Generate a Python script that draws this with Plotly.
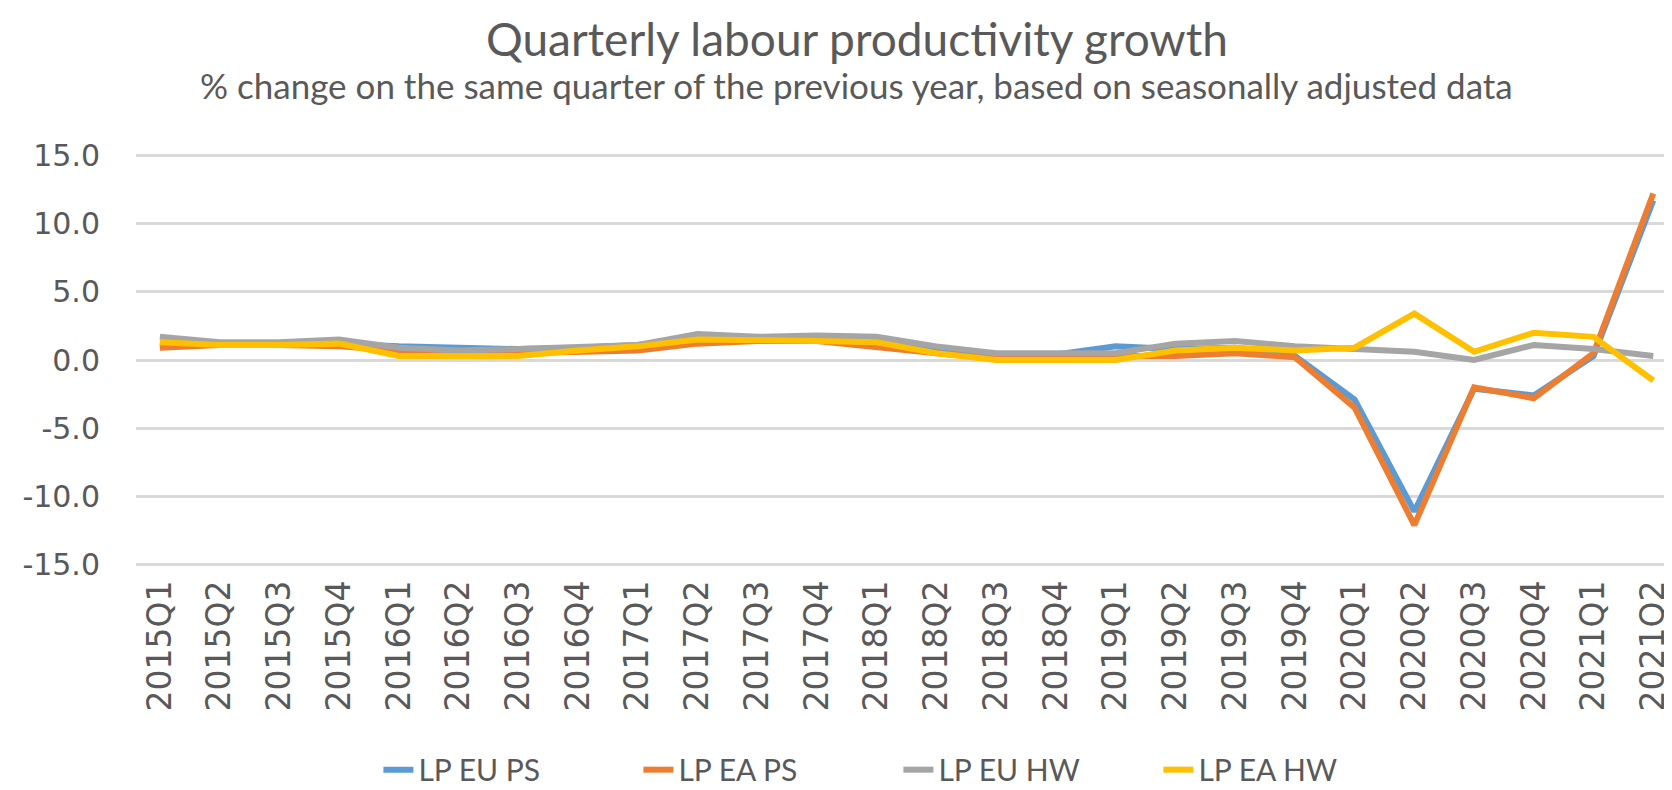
import plotly.graph_objects as go

# 季度標籤
QUARTERS = [
    "2015Q1", "2015Q2", "2015Q3", "2015Q4",
    "2016Q1", "2016Q2", "2016Q3", "2016Q4",
    "2017Q1", "2017Q2", "2017Q3", "2017Q4",
    "2018Q1", "2018Q2", "2018Q3", "2018Q4",
    "2019Q1", "2019Q2", "2019Q3", "2019Q4",
    "2020Q1", "2020Q2", "2020Q3", "2020Q4",
    "2021Q1", "2021Q2",
]

# 各序列數值（% 年增率，由圖估讀）
LP_EU_PS = [1.2, 1.2, 1.2, 1.2, 1.0, 0.9, 0.8, 0.9, 1.1, 1.5, 1.5, 1.5, 1.3,
            0.8, 0.4, 0.4, 1.0, 0.8, 0.9, 0.3, -2.9, -11.1, -2.1, -2.6, 0.3, 11.7]
LP_EA_PS = [0.9, 1.1, 1.1, 1.0, 0.7, 0.5, 0.5, 0.6, 0.7, 1.2, 1.4, 1.4, 0.9,
            0.5, 0.1, 0.1, 0.3, 0.3, 0.5, 0.2, -3.5, -12.1, -2.0, -2.8, 0.5, 12.2]
LP_EU_HW = [1.7, 1.3, 1.3, 1.5, 0.9, 0.7, 0.8, 0.9, 1.1, 1.9, 1.7, 1.8, 1.7,
            1.0, 0.5, 0.5, 0.5, 1.2, 1.4, 1.0, 0.8, 0.6, 0.0, 1.1, 0.8, 0.3]
LP_EA_HW = [1.3, 1.1, 1.1, 1.2, 0.3, 0.3, 0.3, 0.7, 1.0, 1.5, 1.5, 1.4, 1.3,
            0.5, 0.0, 0.0, 0.0, 0.7, 0.9, 0.7, 0.9, 3.4, 0.6, 2.0, 1.7, -1.5]

Y_TICKS = [-15, -10, -5, 0, 5, 10, 15]

SERIES = [
    ("LP EU PS", LP_EU_PS, "#5B9BD5"),
    ("LP EA PS", LP_EA_PS, "#ED7D31"),
    ("LP EU HW", LP_EU_HW, "#A5A5A5"),
    ("LP EA HW", LP_EA_HW, "#FFC000"),
]

TEXT_GREY = "#595959"

fig = go.Figure()
for name, values, color in SERIES:
    fig.add_trace(
        go.Scatter(
            x=QUARTERS,
            y=values,
            mode="lines",
            name=name,
            line=dict(color=color, width=6),
            hovertemplate=f"{name}<br>%{{x}}：%{{y:.1f}}%<extra></extra>",
        )
    )

# 標題與副標題（用 annotation 才能自由定位）
fig.add_annotation(
    text="Quarterly labour productivity growth",
    xref="paper", yref="paper", x=0.470, y=1.0, yshift=116,
    xanchor="center", yanchor="middle", showarrow=False,
    font=dict(family="Lato", size=46, color=TEXT_GREY),
)
fig.add_annotation(
    text="% change on the same quarter of the previous year, based on seasonally adjusted data",
    xref="paper", yref="paper", x=0.470, y=1.0, yshift=69,
    xanchor="center", yanchor="middle", showarrow=False,
    font=dict(family="Lato", size=35, color=TEXT_GREY),
)

# 頁面 body 有 8px 預設邊距，圖寬高各扣 8
fig.update_layout(
    width=1664,
    height=782,
    paper_bgcolor="white",
    plot_bgcolor="white",
    margin=dict(l=128, r=0, t=146, b=224),
    showlegend=True,
    legend=dict(
        orientation="h",
        x=0.497, xanchor="center",
        y=0.026, yanchor="middle", yref="container",
        font=dict(family="Lato", size=30, color=TEXT_GREY),
        entrywidth=215,
    ),
    xaxis=dict(
        type="category",
        range=[-0.40, 25.28],
        tickangle=-90,
        showgrid=False,
        showline=False,
        ticks="",
        ticklabelstandoff=7,
        tickfont=dict(family="DejaVu Sans", size=33, color=TEXT_GREY),
    ),
    yaxis=dict(
        range=[-15.1, 15.1],
        tickvals=Y_TICKS,
        ticktext=[f"{v:.1f}" for v in Y_TICKS],
        showgrid=True,
        gridcolor="#D9D9D9",
        gridwidth=2.5,
        zeroline=False,
        showline=False,
        ticks="",
        ticklabelstandoff=35,
        tickfont=dict(family="DejaVu Sans", size=30, color=TEXT_GREY),
    ),
)

fig.write_html("out.html")
